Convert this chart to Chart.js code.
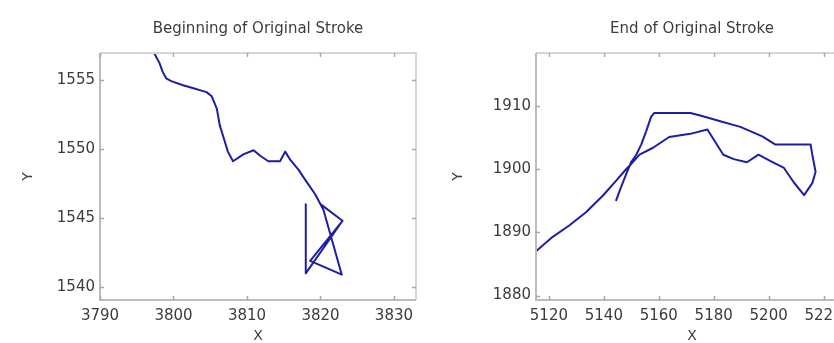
<!DOCTYPE html>
<html>
<head>
<meta charset="utf-8">
<script src="https://cdn.jsdelivr.net/npm/chart.js@4"></script>
<style>
  html, body { margin: 0; padding: 0; background: #fff; overflow: hidden; width: 834px; height: 343px; }
  canvas { position: absolute; top: 0; }
  #beginChart { left: 0; }
  #endChart { left: 417px; }
</style>
</head>
<body>
<canvas id="beginChart" width="417" height="343"></canvas>
<canvas id="endChart" width="431" height="343"></canvas>
<script>
// --- Beginning of stroke ---
const beginX = [3797.4, 3798.1, 3798.5, 3799.0, 3799.7, 3801.3, 3802.6, 3804.5, 3805.2, 3805.9, 3806.3, 3807.0, 3807.4, 3808.1, 3809.5, 3810.9, 3811.8, 3812.9, 3814.5, 3815.2, 3815.9, 3817.0, 3818.0, 3819.3, 3820.4, 3822.9, 3818.6, 3823.0, 3820.0, 3823.0, 3818.0, 3818.0];
const beginY = [1556.9, 1556.2, 1555.6, 1555.1, 1554.9, 1554.6, 1554.4, 1554.1, 1553.8, 1552.9, 1551.7, 1550.5, 1549.8, 1549.1, 1549.6, 1549.9, 1549.5, 1549.1, 1549.1, 1549.8, 1549.2, 1548.5, 1547.7, 1546.7, 1545.6, 1540.9, 1541.9, 1544.8, 1546.0, 1544.8, 1541.0, 1546.0];
const beginXTicks = [3790, 3800, 3810, 3820, 3830];
const beginYTicks = [1540, 1545, 1550, 1555];

// --- End of stroke ---
const endX = [5115.3, 5121.4, 5127.4, 5133.5, 5139.6, 5144.5, 5148.1, 5149.9, 5153.0, 5157.9, 5163.8, 5171.5, 5177.7, 5180.0, 5183.5, 5187.3, 5192.1, 5196.3, 5200.7, 5205.6, 5209.2, 5212.9, 5215.9, 5217.1, 5215.9, 5215.3, 5202.5, 5197.7, 5189.7, 5182.4, 5175.1, 5171.5, 5158.3, 5157.2, 5155.4, 5153.6, 5151.8, 5149.9, 5148.1, 5146.3, 5144.5];
const endY = [1887.0, 1889.3, 1891.1, 1893.2, 1895.8, 1898.2, 1900.0, 1900.8, 1902.3, 1903.4, 1905.1, 1905.6, 1906.3, 1904.7, 1902.3, 1901.6, 1901.1, 1902.3, 1901.3, 1900.2, 1897.9, 1895.9, 1897.8, 1899.6, 1902.3, 1903.9, 1903.9, 1905.2, 1906.7, 1907.6, 1908.5, 1908.9, 1908.9, 1908.3, 1906.0, 1903.9, 1902.3, 1901.1, 1899.2, 1897.2, 1895.1];
const endXTicks = [5120, 5140, 5160, 5180, 5200, 5220];
const endYTicks = [1880, 1890, 1900, 1910];

const lineColor = '#1e1ea2';
const textColor = '#3c3c3c';
const fontFamily = 'DejaVu Sans';

// MATLAB-like box with inward tick marks
const boxPlugin = {
    id: 'box',
    afterDraw(chart, args, opts) {
        const { ctx, chartArea: a, scales: { x, y } } = chart;
        const right = opts.drawRight !== false;
        ctx.save();
        ctx.lineWidth = 2;
        ctx.strokeStyle = '#d6d6d6';
        ctx.beginPath();
        ctx.moveTo(a.left, a.top);
        ctx.lineTo(a.right, a.top);
        if (right) ctx.lineTo(a.right, a.bottom);
        ctx.stroke();
        ctx.strokeStyle = '#bcbcbc';
        ctx.beginPath();
        ctx.moveTo(a.left, a.top);
        ctx.lineTo(a.left, a.bottom);
        ctx.lineTo(a.right, a.bottom);
        ctx.stroke();
        ctx.strokeStyle = '#a8a8a8';
        ctx.lineWidth = 1.5;
        const len = 4;
        ctx.beginPath();
        x.ticks.forEach(t => {
            const px = Math.round(x.getPixelForValue(t.value)) + 0.5;
            ctx.moveTo(px, a.bottom); ctx.lineTo(px, a.bottom - len);
            ctx.moveTo(px, a.top); ctx.lineTo(px, a.top + len);
        });
        y.ticks.forEach(t => {
            const py = Math.round(y.getPixelForValue(t.value)) + 0.5;
            ctx.moveTo(a.left, py); ctx.lineTo(a.left + len, py);
            if (right) { ctx.moveTo(a.right, py); ctx.lineTo(a.right - len, py); }
        });
        ctx.stroke();
        ctx.restore();
    }
};

function makeStroke(canvasId, opts) {
    const points = opts.xs.map((v, i) => ({ x: v, y: opts.ys[i] }));
    const tickFont = { family: fontFamily, size: 15 };
    new Chart(document.getElementById(canvasId), {
        type: 'line',
        data: {
            datasets: [{
                data: points,
                borderColor: lineColor,
                borderWidth: 2,
                pointRadius: 0,
                tension: 0,
                borderJoinStyle: 'round',
                borderCapStyle: 'round'
            }]
        },
        options: {
            responsive: false,
            animation: false,
            layout: { padding: { left: 0, right: opts.rightPad, top: 0, bottom: 0 } },
            plugins: {
                legend: { display: false },
                tooltip: { enabled: false },
                box: { drawRight: opts.drawRight },
                title: {
                    display: true,
                    text: opts.title,
                    fullSize: false,
                    color: textColor,
                    font: { family: fontFamily, size: 15, weight: 'normal', lineHeight: 1 },
                    padding: { top: 22, bottom: 16 }
                }
            },
            scales: {
                x: {
                    type: 'linear',
                    min: opts.xMin,
                    max: opts.xMax,
                    afterBuildTicks: s => { s.ticks = opts.xTicks.map(v => ({ value: v })); },
                    afterFit: s => { s.height = 43; s.paddingLeft = 0; s.paddingRight = 0; },
                    grid: { display: false, drawTicks: false },
                    border: { display: false },
                    ticks: { font: tickFont, color: textColor, padding: 7, maxRotation: 0, autoSkip: false, callback: v => String(v) },
                    title: { display: true, text: 'X', color: textColor, font: { family: fontFamily, size: 14, lineHeight: 1 }, padding: 0 }
                },
                y: {
                    type: 'linear',
                    min: opts.yMin,
                    max: opts.yMax,
                    afterBuildTicks: s => { s.ticks = opts.yTicks.map(v => ({ value: v })); },
                    afterFit: s => { s.width = opts.yWidth; s.paddingTop = 0; s.paddingBottom = 0; },
                    grid: { display: false, drawTicks: false },
                    border: { display: false },
                    ticks: { font: tickFont, color: textColor, padding: 5, autoSkip: false, callback: v => String(v) },
                    title: { display: true, text: 'Y', color: textColor, font: { family: fontFamily, size: 14, lineHeight: 1 }, padding: { top: opts.yTitlePad, bottom: 0 } }
                }
            }
        },
        plugins: [boxPlugin]
    });
}

makeStroke('beginChart', {
    xs: beginX, ys: beginY, xTicks: beginXTicks, yTicks: beginYTicks,
    title: 'Beginning of Original Stroke',
    xMin: 3790, xMax: 3833, yMin: 1539.07, yMax: 1556.93,
    yWidth: 100, yTitlePad: 21, rightPad: 1, drawRight: true
});

// right panel runs past the edge of the figure, like the reference
makeStroke('endChart', {
    xs: endX, ys: endY, xTicks: endXTicks, yTicks: endYTicks,
    title: 'End of Original Stroke',
    xMin: 5115.3, xMax: 5228.9, yMin: 1879.3, yMax: 1918.4,
    yWidth: 119, yTitlePad: 34, rightPad: 0, drawRight: false
});
</script>
</body>
</html>
